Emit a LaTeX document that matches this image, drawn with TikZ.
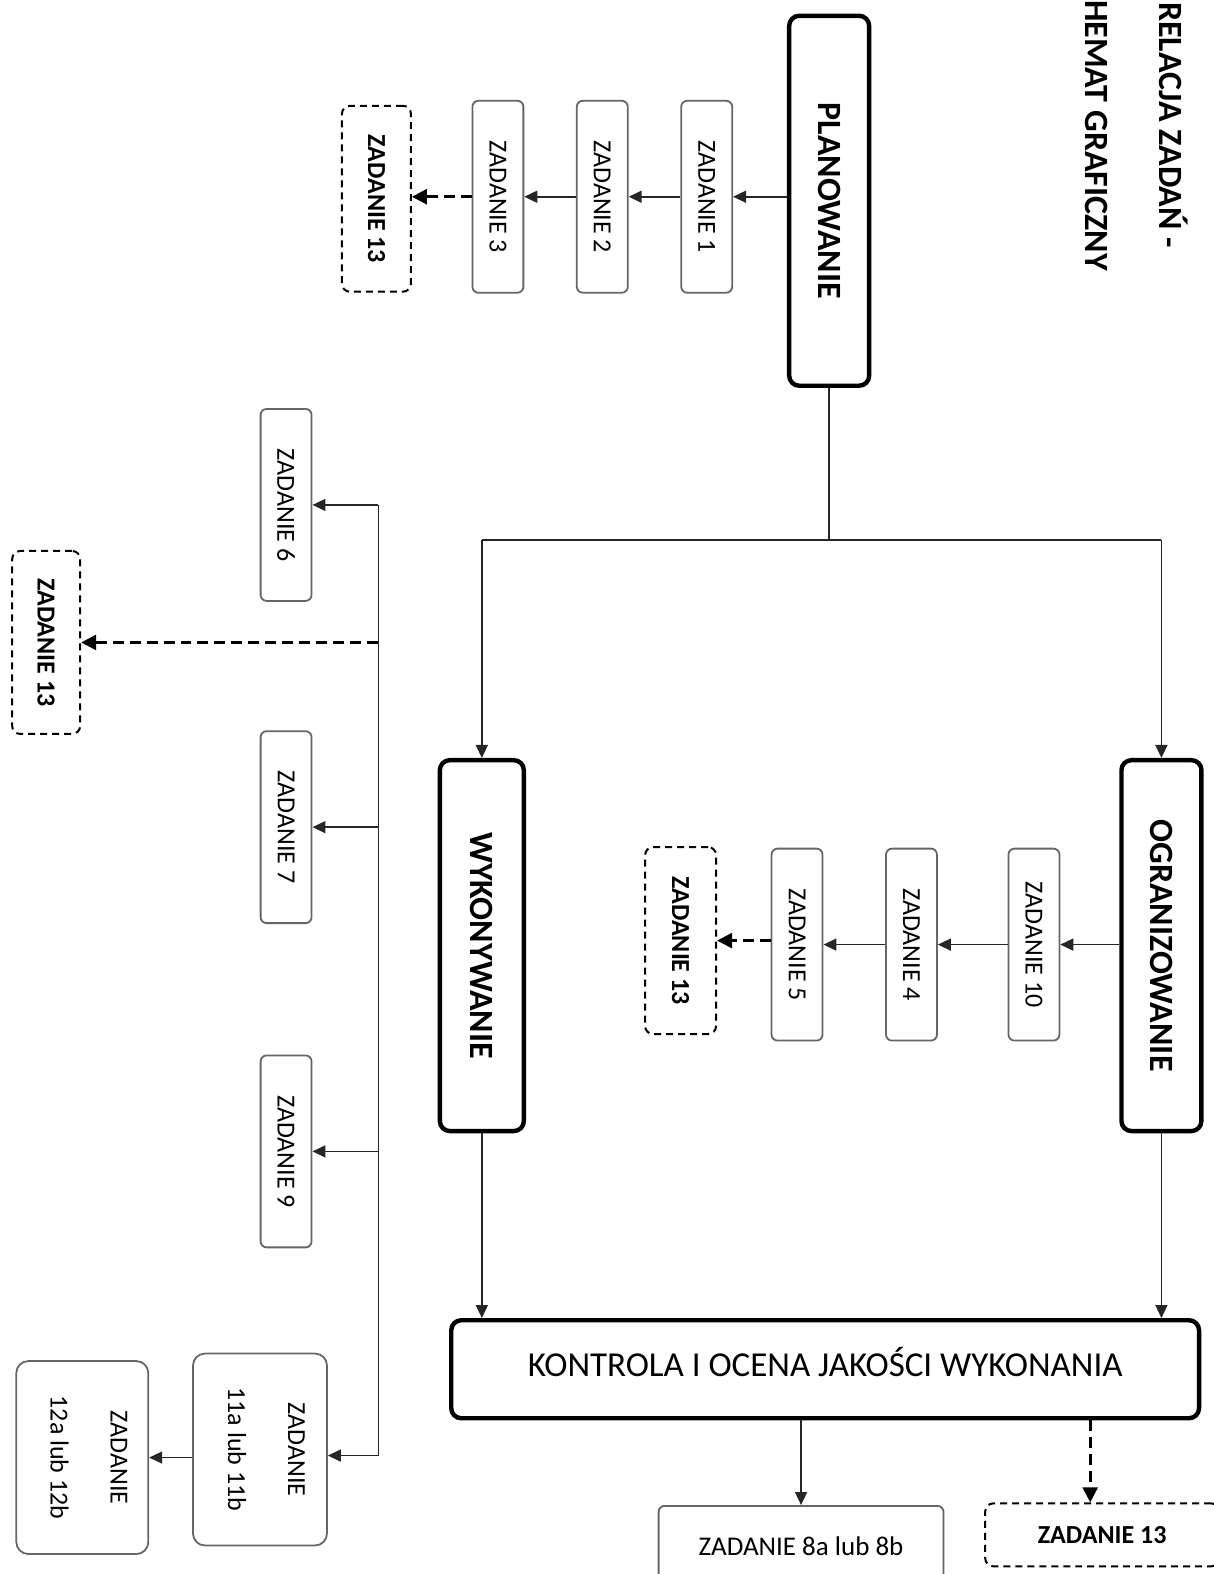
\documentclass[tikz,border=0pt]{standalone}
\usepackage{fontspec}
\setmainfont{Carlito}
\usepackage{graphicx}
\usetikzlibrary{arrows.meta}
\usetikzlibrary{positioning}
\tikzset{
    title text/.style={
        rotate=-90,
        anchor=base west,
        inner sep=0,
        font=\fontsize{34}{40}\selectfont\bfseries,
    },
    stage box/.style={
        draw,
        line width=4.4pt,
        rounded corners=10pt,
        inner sep=0,
        font=\fontsize{34}{40}\selectfont\bfseries,
    },
    task box/.style={
        draw=black!60,
        line width=1.8pt,
        rounded corners=6pt,
        inner sep=0,
        font=\fontsize{26}{60}\selectfont,
    },
    extra box/.style={
        draw,
        line width=2pt,
        dash pattern=on 7pt off 5pt,
        rounded corners=8pt,
        inner sep=0,
        font=\fontsize{26}{30}\selectfont\bfseries,
    },
    plain link/.style={
        draw=black!85,
        line width=1.6pt,
    },
    link/.style={
        plain link,
        -{Triangle[length=13pt,width=12pt]},
    },
    link dashed/.style={
        plain link,
        draw=black,
        line width=2.6pt,
        dash pattern=on 11pt off 6pt,
        -{Triangle[length=15pt,width=15pt]},
    },
}
\newcommand\vtxt[1]{\rotatebox{-90}{#1}}
\newcommand\vtwo[2]{\rotatebox{-90}{\raisebox{0pt}[56pt][64pt]{\begin{tabular}{@{}c@{}}#1\\#2\end{tabular}}}}

\begin{document}
\begin{tikzpicture}[x=1.0041pt, y=-1.0041pt]

    \useasboundingbox[fill=white] (0,0) rectangle (1209,1568);

    % title, running down the right edge
    \node[title text] (title1) at (1155,2) {RELACJA ZADAŃ -};
    \node[title text] (title2) at (1081,0) {HEMAT GRAFICZNY};

    % main stages
    \node[stage box, minimum width=80pt, minimum height=370pt] (plan) at (826,200) {\vtxt{PLANOWANIE}};
    \node[stage box, minimum width=80pt, minimum height=371pt] (ogr) at (1157,942) {\vtxt{OGRANIZOWANIE}};
    \node[stage box, minimum width=84pt, minimum height=371pt] (wyk) at (480,942) {\vtxt{WYKONYWANIE}};
    \node[stage box, minimum width=748pt, minimum height=98pt, text height=26pt, text depth=12pt,
          font=\fontsize{35}{40}\selectfont] (kon) at (822,1364) {KONTROLA I OCENA JAKOŚCI WYKONANIA};

    % tasks of planowanie
    \foreach \name/\x/\num in {z1/704/1, z2/600/2, z3/496/3}
    {
        \node[task box, minimum width=51pt, minimum height=192pt] (\name) at (\x,196) {\vtxt{ZADANIE \num}};
    }
    \node[extra box, minimum width=69pt, minimum height=186pt] (t13a) at (375,198) {\vtxt{ZADANIE 13}};

    % tasks of organizowanie
    \foreach \name/\x/\num in {z10/1030/10, z4/908/4, z5/794/5}
    {
        \node[task box, minimum width=51pt, minimum height=192pt] (\name) at (\x,941) {\vtxt{ZADANIE \num}};
    }
    \node[extra box, minimum width=71pt, minimum height=187pt] (t13b) at (678,937) {\vtxt{ZADANIE 13}};

    % tasks of wykonywanie
    \foreach \name/\y/\num in {z6/503/6, z7/824/7, z9/1147/9}
    {
        \node[task box, minimum width=51pt, minimum height=192pt] (\name) at (285,\y) {\vtxt{ZADANIE \num}};
    }
    \node[extra box, minimum width=68pt, minimum height=183pt] (t13d) at (46,640) {\vtxt{ZADANIE 13}};
    \node[task box, minimum width=134pt, minimum height=192pt, rounded corners=12pt] (z11) at (259,1444)
        {\vtwo{ZADANIE}{11a lub 11b}};
    \node[task box, minimum width=132pt, minimum height=193pt, rounded corners=12pt] (z12) at (82,1452)
        {\vtwo{ZADANIE}{12a lub 12b}};

    % after kontrola
    \node[task box, minimum width=285pt, minimum height=80pt,
          font=\fontsize{27}{30}\selectfont] (z8) at (798,1540) {ZADANIE 8a lub 8b};
    \node[extra box, minimum width=234pt, minimum height=63pt] (t13c) at (1098,1529) {ZADANIE 13};

    % connectors
    \draw[link] (plan.west |- z1) -- (z1.east);
    \draw[link] (z1.west) -- (z2.east);
    \draw[link] (z2.west) -- (z3.east);
    \draw[link dashed] (z3.west) -- (t13a.east |- z3);

    \coordinate (split) at (830,538);
    \draw[plain link] (plan.south) -- (plan.south |- split);
    \draw[plain link] (wyk.north |- split) -- (ogr.north |- split);
    \draw[link] (wyk.north |- split) -- (wyk.north);
    \draw[link] (ogr.north |- split) -- (ogr.north);

    \draw[link] (ogr.west |- z10) -- (z10.east);
    \draw[link] (z10.west) -- (z4.east);
    \draw[link] (z4.west) -- (z5.east);
    \draw[link dashed] (z5.west |- t13b) -- (t13b.east);

    \coordinate (bustop) at (377,503);
    \coordinate (busend) at (377,1450);
    \draw[link] (bustop) -- (z6.east |- bustop);
    \draw[link] (bustop) -- (busend) -- (z11.east |- busend);
    \draw[link] (bustop |- z7) -- (z7.east);
    \draw[link] (bustop |- z9) -- (z9.east);
    \draw[link dashed] (bustop |- t13d) -- (t13d.east);
    \draw[link] (z11.west |- z12) -- (z12.east);

    \draw[link] (wyk.south) -- (wyk.south |- kon.north);
    \draw[link] (ogr.south) -- (ogr.south |- kon.north);
    \draw[link] (kon.south -| z8.north) -- (z8.north);
    \draw[link dashed] ([xshift=-12pt]t13c.north |- kon.south) -- ([xshift=-12pt]t13c.north);

\end{tikzpicture}
\end{document}
